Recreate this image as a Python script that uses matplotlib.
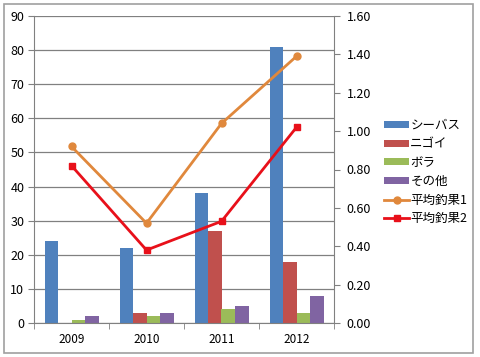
import numpy as np
import matplotlib.pyplot as plt
from matplotlib.patches import Rectangle

plt.rcParams['font.family'] = ['Noto Sans CJK JP', 'DejaVu Sans']

# データ
years = ['2009', '2010', '2011', '2012']
seabass = [24, 22, 38, 81]
nigoi = [0, 3, 27, 18]
bora = [1, 2, 4, 3]
others = [2, 3, 5, 8]
avg1 = [0.92, 0.52, 1.04, 1.39]
avg2 = [0.82, 0.38, 0.53, 1.02]

bar_names = ['シーバス', 'ニゴイ', 'ボラ', 'その他']
bar_colors = ['#4F81BD', '#C0504D', '#9BBB59', '#8064A2']

fig = plt.figure(figsize=(4.8, 3.57), dpi=100)
fig.patch.set_facecolor('white')
fig.add_artist(Rectangle((4/480, 4/357), 469/480, 349/357, transform=fig.transFigure,
                         fill=False, edgecolor='#A0A0A0', linewidth=1.2))

ax = fig.add_axes([34/480, 34/357, 300/480, 307/357])
x = np.arange(len(years))
w = 0.18
for k, (vals, c, n) in enumerate(zip([seabass, nigoi, bora, others], bar_colors, bar_names)):
    ax.bar(x + (k - 1.5) * w, vals, w, color=c, label=n, zorder=2)

ax.set_ylim(0, 90)
ax.set_yticks(range(0, 91, 10))
ax.set_xlim(-0.5, 3.5)
ax.set_xticks(x)
ax.set_xticklabels(years)
ax.set_xticks(np.arange(-0.5, 4, 1), minor=True)
ax.tick_params(axis='x', which='major', length=0, labelsize=8.5, pad=7)
ax.tick_params(axis='x', which='minor', length=4, color='#808080')
ax.tick_params(axis='y', length=4, color='#808080', labelsize=9, pad=3)
ax.grid(axis='y', color='#808080', linewidth=0.9, zorder=0)
ax.set_axisbelow(True)
for s in ['top', 'right']:
    ax.spines[s].set_visible(False)
for s in ['left', 'bottom']:
    ax.spines[s].set_color('#808080')

ax2 = ax.twinx()
ax2.plot(x, avg1, color='#E0883C', marker='o', markersize=5, linewidth=2, label='平均釣果1', zorder=3)
ax2.plot(x, avg2, color='#E8101A', marker='s', markersize=5, linewidth=2, label='平均釣果2', zorder=3)
ax2.set_ylim(0, 1.6)
ax2.set_yticks(np.arange(0, 1.61, 0.2))
ax2.set_yticklabels([f'{v:.2f}' for v in np.arange(0, 1.61, 0.2)])
ax2.tick_params(axis='y', length=4, color='#808080', labelsize=9, pad=5)
for s in ['top', 'left', 'bottom']:
    ax2.spines[s].set_visible(False)
ax2.spines['right'].set_color('#808080')

h1, l1 = ax.get_legend_handles_labels()
h2, l2 = ax2.get_legend_handles_labels()
fig.legend(h1 + h2, l1 + l2, loc='upper left', bbox_to_anchor=(379/480, 1 - 114/357),
           frameon=False, fontsize=9, handlelength=2.0, handleheight=0.45,
           handletextpad=0.1, labelspacing=0.45, borderaxespad=0)

plt.savefig('out.png', dpi=100)
